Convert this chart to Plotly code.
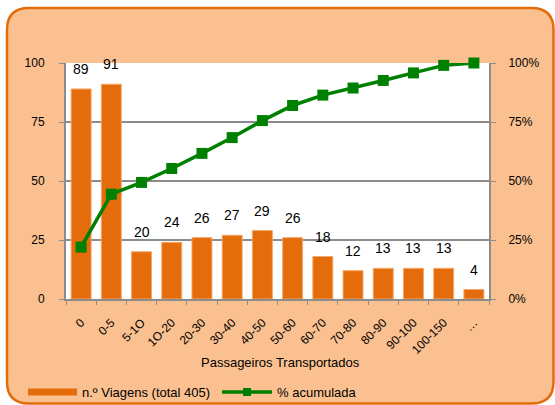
import plotly.graph_objects as go

# Trips by number of passengers carried, with cumulative share
categories = ["0", "0-5", "5-1O", "1O-20", "20-30", "30-40", "40-50", "50-60",
              "60-70", "70-80", "80-90", "90-100", "100-150", "…"]
trips = [89, 91, 20, 24, 26, 27, 29, 26, 18, 12, 13, 13, 13, 4]
cumulative_pct = [22.0, 44.4, 49.4, 55.3, 61.7, 68.4, 75.6, 82.0,
                  86.4, 89.4, 92.6, 95.8, 99.0, 100.0]
left_ticks = [0, 25, 50, 75, 100]
right_ticks = [0, 25, 50, 75, 100]
right_tick_text = ["0%", "25%", "50%", "75%", "100%"]

bar_name = "n.º Viagens (total 405)"
line_name = "% acumulada"
x_title = "Passageiros Transportados"

ORANGE = "#E46C0A"
CARD = "#FAC090"
GREEN = "#008000"
GRID = "#8C8C8C"
FONT = "Liberation Sans, Arial, sans-serif"

W, H = 555, 405
L, R, T, B = 66, 489, 63, 299   # plot area in pixels


def fx(px):
    return (px - L) / (R - L)


def fy(py):
    return (B - py) / (B - T)


def rounded_rect(x0, y0, x1, y1, r):
    """SVG path (paper coords) for a rounded rectangle given in pixels."""
    pts = [
        ("M", [(x0 + r, y0)]),
        ("L", [(x1 - r, y0)]),
        ("Q", [(x1, y0), (x1, y0 + r)]),
        ("L", [(x1, y1 - r)]),
        ("Q", [(x1, y1), (x1 - r, y1)]),
        ("L", [(x0 + r, y1)]),
        ("Q", [(x0, y1), (x0, y1 - r)]),
        ("L", [(x0, y0 + r)]),
        ("Q", [(x0, y0), (x0 + r, y0)]),
    ]
    parts = []
    for cmd, coords in pts:
        parts.append(cmd + " " + " ".join(f"{fx(a):.5f},{fy(b):.5f}" for a, b in coords))
    return " ".join(parts) + " Z"


fig = go.Figure()

fig.add_trace(go.Bar(
    x=categories, y=trips, name=bar_name,
    marker=dict(color=ORANGE, line=dict(color="#F3A76A", width=1)),
    showlegend=False,
))

fig.add_trace(go.Scatter(
    x=categories, y=cumulative_pct, name=line_name, yaxis="y2",
    mode="lines+markers",
    line=dict(color=GREEN, width=3.5),
    marker=dict(symbol="square", size=11, color=GREEN),
    cliponaxis=False, showlegend=False,
))

# value labels above each bar
annotations = []
for c, v in zip(categories, trips):
    annotations.append(dict(
        x=c, y=v, xref="x", yref="y", text=str(v), showarrow=False,
        yanchor="bottom", yshift=10,
        font=dict(family=FONT, size=14, color="#000000"),
    ))

# axis title
annotations.append(dict(
    x=fx((L + R) / 2 + 3), y=fy(362), xref="paper", yref="paper",
    text=x_title, showarrow=False, xanchor="center", yanchor="middle",
    font=dict(family=FONT, size=13, color="#000000"),
))

# legend texts
annotations.append(dict(
    x=fx(80), y=fy(392), xref="paper", yref="paper", text=bar_name,
    showarrow=False, xanchor="left", yanchor="middle",
    font=dict(family=FONT, size=13, color="#000000"),
))
annotations.append(dict(
    x=fx(275), y=fy(392), xref="paper", yref="paper", text=line_name,
    showarrow=False, xanchor="left", yanchor="middle",
    font=dict(family=FONT, size=13, color="#000000"),
))

shapes = [
    # card background with rounded corners
    dict(type="path", xref="paper", yref="paper", layer="below",
         path=rounded_rect(7, 8, 553.5, 403.5, 22),
         fillcolor=CARD, line=dict(color=ORANGE, width=2.5)),
    # white plot area
    dict(type="rect", xref="paper", yref="paper", layer="below",
         x0=0, x1=1, y0=0, y1=1, fillcolor="#FFFFFF", line=dict(width=0)),
    # legend swatches
    dict(type="rect", xref="paper", yref="paper",
         x0=fx(28), x1=fx(77), y0=fy(388.5), y1=fy(395.5),
         fillcolor=ORANGE, line=dict(width=0)),
    dict(type="line", xref="paper", yref="paper",
         x0=fx(222), x1=fx(272), y0=fy(392), y1=fy(392),
         line=dict(color=GREEN, width=3.5)),
    dict(type="rect", xref="paper", yref="paper",
         x0=fx(243), x1=fx(251), y0=fy(388), y1=fy(396),
         fillcolor=GREEN, line=dict(width=0)),
]

fig.update_layout(
    width=W, height=H,
    margin=dict(l=L, r=W - R, t=T, b=H - B, pad=0),
    paper_bgcolor="#FFFFFF", plot_bgcolor="rgba(0,0,0,0)",
    font=dict(family=FONT, size=12, color="#000000"),
    bargap=0.34,
    showlegend=False,
    xaxis=dict(
        type="category", showgrid=False,
        showline=True, linecolor=GRID, linewidth=2,
        ticks="outside", tickson="boundaries", ticklen=4, tickcolor=GRID,
        tickangle=-45, tickfont=dict(size=12), ticklabelstandoff=10,
        range=[-0.5, len(categories) - 0.5],
    ),
    yaxis=dict(
        range=[0, 100], tickvals=left_ticks, showgrid=True,
        gridcolor=GRID, gridwidth=1.5,
        showline=True, linecolor=GRID, linewidth=2,
        ticks="outside", ticklen=5, tickcolor=GRID,
        tickfont=dict(size=12), ticklabelstandoff=12, zeroline=False,
    ),
    yaxis2=dict(
        range=[0, 100], tickvals=right_ticks, ticktext=right_tick_text,
        overlaying="y", side="right", showgrid=False,
        showline=True, linecolor=GRID, linewidth=2,
        ticks="outside", ticklen=5, tickcolor=GRID,
        tickfont=dict(size=12), ticklabelstandoff=10, zeroline=False,
    ),
    shapes=shapes,
    annotations=annotations,
)

fig.write_html("out.html")
